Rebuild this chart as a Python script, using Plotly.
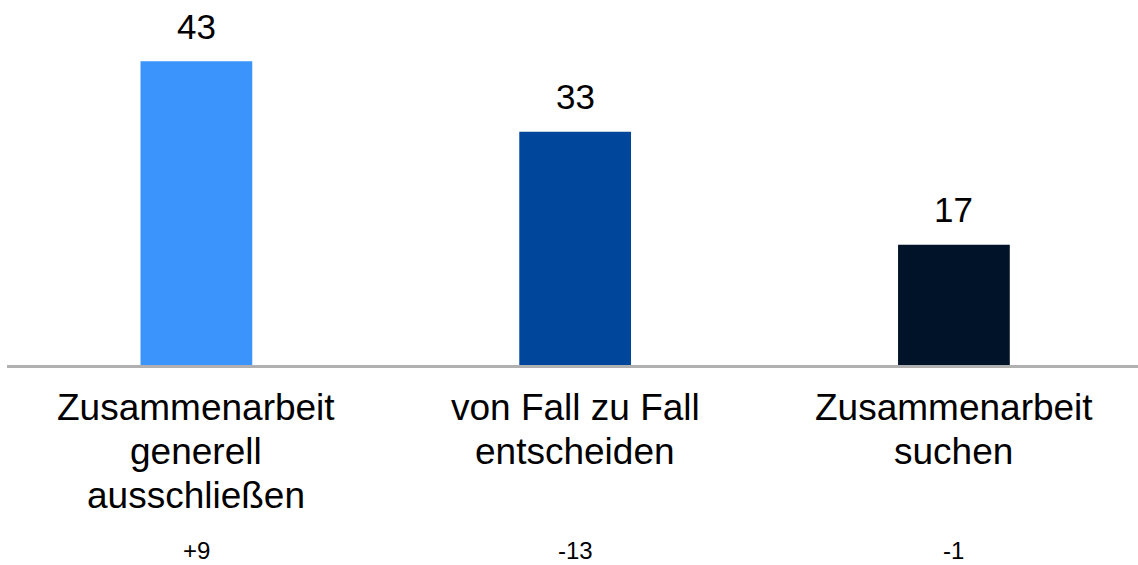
import plotly.graph_objects as go

categories = ["Zusammenarbeit<br>generell<br>ausschließen",
              "von Fall zu Fall<br>entscheiden",
              "Zusammenarbeit<br>suchen"]
values = [43, 33, 17]
changes = ["+9", "-13", "-1"]
colors = ["#3b94fc", "#00479b", "#001329"]

FONT = "Liberation Sans, Arial, sans-serif"
xs = list(range(len(categories)))

fig = go.Figure()
fig.add_trace(go.Bar(x=xs, y=values, marker=dict(color=colors, line=dict(width=0)),
                     width=0.295, hoverinfo="skip"))

annotations = []
for i, (c, v, ch) in enumerate(zip(categories, values, changes)):
    annotations.append(dict(x=i, y=v, xref="x", yref="y", text=str(v), showarrow=False,
                            yanchor="middle", yshift=35,
                            font=dict(family=FONT, size=35, color="#000000")))
    for j, line in enumerate(c.split("<br>")):
        annotations.append(dict(x=i, y=0, xref="x", yref="y", text=line, showarrow=False,
                                yanchor="middle", yshift=-42 - 44 * j,
                                font=dict(family=FONT, size=37, color="#000000")))
    annotations.append(dict(x=i, y=0, xref="paper", yref="paper", text=ch, showarrow=False,
                            yanchor="bottom", borderpad=0, yshift=-200,
                            font=dict(family=FONT, size=24, color="#000000")))
# fix x reference for change labels (data x)
for a in annotations:
    if a["yref"] == "paper":
        a["xref"] = "x"

fig.update_layout(
    width=1138, height=565,
    margin=dict(l=7, r=0, t=0, b=200),
    paper_bgcolor="white", plot_bgcolor="white",
    showlegend=False,
    annotations=annotations,
    xaxis=dict(range=[-0.5, 2.486], showticklabels=False, ticks="", showgrid=False,
               zeroline=False, showline=True, linecolor="#b0b0b0", linewidth=3),
    yaxis=dict(range=[0, 51.65], visible=False, showgrid=False, zeroline=False),
)

fig.write_html("out.html", config={"displayModeBar": False},
               post_script="document.body.style.margin='0';document.body.style.overflow='hidden';")
